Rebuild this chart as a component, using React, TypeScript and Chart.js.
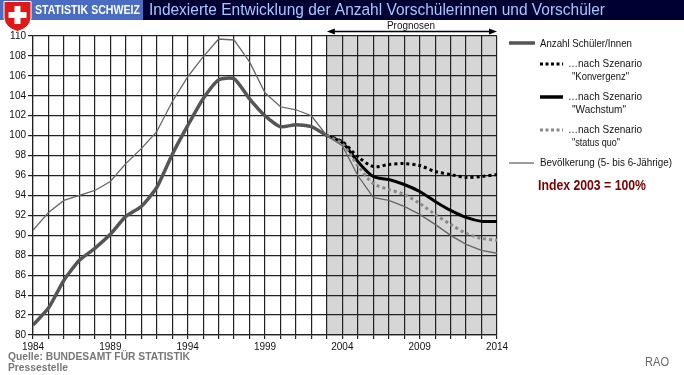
import React, { useEffect, useRef } from "react";
import { Chart, registerables } from "chart.js";

Chart.register(...registerables);

const histYears = [1984, 1985, 1986, 1987, 1988, 1989, 1990, 1991, 1992, 1993, 1994, 1995, 1996, 1997, 1998, 1999, 2000, 2001, 2002, 2003];
const schueler = [81.0, 82.7, 85.5, 87.5, 88.7, 90.1, 91.9, 92.9, 94.8, 98.1, 101.0, 103.7, 105.6, 105.7, 103.7, 102.0, 100.9, 101.1, 100.9, 100.0];
const bevHist = [90.5, 92.3, 93.5, 94.0, 94.5, 95.4, 97.2, 98.7, 100.4, 103.4, 105.9, 107.9, 109.7, 109.6, 107.4, 104.3, 102.9, 102.6, 102.0, 100.0];

const progYears = [2003, 2004, 2005, 2006, 2007, 2008, 2009, 2010, 2011, 2012, 2013, 2014];
const konvergenz = [100.0, 99.4, 97.9, 96.9, 97.1, 97.2, 97.0, 96.4, 96.1, 95.8, 95.9, 96.1];
const wachstum = [100.0, 99.3, 97.4, 95.9, 95.6, 95.1, 94.4, 93.4, 92.5, 91.8, 91.4, 91.4];
const statusQuo = [100.0, 99.2, 97.0, 95.2, 94.6, 94.1, 93.2, 92.1, 91.1, 90.2, 89.7, 89.5];
const bevProg = [100.0, 99.0, 96.0, 93.8, 93.5, 92.9, 92.1, 91.1, 90.0, 89.1, 88.5, 88.2];

const yTicks = [80, 82, 84, 86, 88, 90, 92, 94, 96, 98, 100, 102, 104, 106, 108, 110];
const xLabelYears = [1984, 1989, 1994, 1999, 2004, 2009, 2014];

const title = "Indexierte Entwicklung der Anzahl Vorschülerinnen und Vorschüler";
const brand = "STATISTIK SCHWEIZ";
const prognoseLabel = "Prognosen";
const prognoseStart = 2003;
const indexNote = "Index 2003 = 100%";
const source1 = "Quelle: BUNDESAMT FÜR STATISTIK";
const source2 = "Pressestelle";
const credit = "RAO";

const pts = (xs: number[], ys: number[]) => xs.map((x, i) => ({ x, y: ys[i] }));

const SANS = "'Liberation Sans', Arial, sans-serif";

function fitText(ctx: any, text: string, x: number, y: number, width: number) {
  const w = ctx.measureText(text).width;
  const s = w > 0 ? width / w : 1;
  ctx.save();
  ctx.translate(x, y);
  ctx.scale(s, 1);
  ctx.fillText(text, 0, 0);
  ctx.restore();
}

const decorPlugin = {
  id: "decor",
  beforeDraw(chart: any) {
    const ctx = chart.ctx;
    const x = chart.scales.x;
    const a = chart.chartArea;
    const x0 = x.getPixelForValue(prognoseStart);
    ctx.save();
    ctx.fillStyle = "#d6d6d6";
    ctx.fillRect(x0, a.top, a.right - x0, a.bottom - a.top);
    ctx.restore();
  },
  afterDraw(chart: any) {
    const ctx = chart.ctx;
    const xs = chart.scales.x;
    const a = chart.chartArea;
    ctx.save();
    // header
    ctx.fillStyle = "#000033";
    ctx.fillRect(0, 0, 684, 20);
    ctx.fillStyle = "#4a6cc2";
    ctx.fillRect(0, 0, 143, 20);
    // shield
    ctx.fillStyle = "#e01818";
    ctx.beginPath();
    ctx.moveTo(4, 1.5);
    ctx.lineTo(31, 1.5);
    ctx.lineTo(31, 18);
    ctx.quadraticCurveTo(30, 28, 17.5, 31.5);
    ctx.quadraticCurveTo(5, 28, 4, 18);
    ctx.closePath();
    ctx.fill();
    ctx.strokeStyle = "#ffffff";
    ctx.lineWidth = 1;
    ctx.stroke();
    ctx.fillStyle = "#ffffff";
    ctx.fillRect(14.5, 6, 6, 18);
    ctx.fillRect(8.5, 12, 18, 6);
    ctx.fillStyle = "#ffffff";
    ctx.font = `bold 13px ${SANS}`;
    ctx.textBaseline = "middle";
    ctx.textAlign = "left";
    fitText(ctx, brand, 35, 10.5, 105);
    ctx.fillStyle = "#a6c8ff";
    ctx.font = `16px ${SANS}`;
    fitText(ctx, title, 149, 10.5, 456);

    // Prognosen arrow
    const px0 = xs.getPixelForValue(prognoseStart);
    const px1 = a.right;
    const ay = 31.5;
    ctx.strokeStyle = "#000";
    ctx.fillStyle = "#000";
    ctx.lineWidth = 1.5;
    ctx.beginPath();
    ctx.moveTo(px0 + 4, ay);
    ctx.lineTo(px1 - 4, ay);
    ctx.stroke();
    ctx.beginPath();
    ctx.moveTo(px0, ay);
    ctx.lineTo(px0 + 8, ay - 3);
    ctx.lineTo(px0 + 8, ay + 3);
    ctx.closePath();
    ctx.fill();
    ctx.beginPath();
    ctx.moveTo(px1, ay);
    ctx.lineTo(px1 - 8, ay - 3);
    ctx.lineTo(px1 - 8, ay + 3);
    ctx.closePath();
    ctx.fill();
    ctx.font = `11px ${SANS}`;
    ctx.textAlign = "left";
    ctx.fillStyle = "#111";
    fitText(ctx, prognoseLabel, 387, 25.5, 48);

    // legend
    ctx.textAlign = "left";
    ctx.font = `11px ${SANS}`;
    const line = (x1: number, x2: number, y: number, color: string, w: number, dash: number[]) => {
      ctx.beginPath();
      ctx.setLineDash(dash);
      ctx.strokeStyle = color;
      ctx.lineWidth = w;
      ctx.moveTo(x1, y);
      ctx.lineTo(x2, y);
      ctx.stroke();
      ctx.setLineDash([]);
    };
    line(509, 535, 43, "#555555", 3.5, []);
    ctx.fillStyle = "#111";
    fitText(ctx, "Anzahl Schüler/Innen", 540, 43.5, 92);
    line(540, 563, 64, "#000000", 3, [3, 2.5]);
    ctx.fillStyle = "#111";
    fitText(ctx, "…nach Szenario", 568, 64, 74);
    fitText(ctx, "\"Konvergenz\"", 572, 77, 57);
    line(540, 563, 97, "#000000", 3.5, []);
    ctx.fillStyle = "#111";
    fitText(ctx, "…nach Szenario", 568, 97, 74);
    fitText(ctx, "\"Wachstum\"", 572, 110, 54);
    line(540, 563, 130, "#888888", 3, [3, 2.5]);
    ctx.fillStyle = "#111";
    fitText(ctx, "…nach Szenario", 568, 130, 74);
    fitText(ctx, "\"status quo\"", 572, 143, 48);
    line(509, 534, 163, "#666666", 1.3, []);
    ctx.fillStyle = "#111";
    fitText(ctx, "Bevölkerung (5- bis 6-Jährige)", 540, 163, 132);
    ctx.fillStyle = "#7a0000";
    ctx.font = `bold 15px ${SANS}`;
    fitText(ctx, indexNote, 538, 186, 108);

    // footer
    ctx.fillStyle = "#777777";
    ctx.font = `bold 11px ${SANS}`;
    fitText(ctx, source1, 8, 357, 182);
    fitText(ctx, source2, 8, 368, 60);
    ctx.font = `12px ${SANS}`;
    ctx.fillStyle = "#666";
    fitText(ctx, credit, 645, 363, 24);
    ctx.restore();
  },
};

export default function App() {
  const ref = useRef<HTMLCanvasElement>(null);
  useEffect(() => {
    if (!ref.current) return;
    const chart = new Chart(ref.current, {
      type: "line",
      data: {
        datasets: [
          { label: "Bevölkerung (5- bis 6-Jährige)", data: pts([...histYears, ...progYears.slice(1)], [...bevHist, ...bevProg.slice(1)]), borderColor: "#666666", borderWidth: 1.3, pointRadius: 0, tension: 0 },
          { label: "…nach Szenario \"status quo\"", data: pts(progYears, statusQuo), borderColor: "#8a8a8a", borderWidth: 3, borderDash: [3, 3], pointRadius: 0, tension: 0.3 },
          { label: "…nach Szenario \"Wachstum\"", data: pts(progYears, wachstum), borderColor: "#000000", borderWidth: 3, pointRadius: 0, tension: 0.3 },
          { label: "…nach Szenario \"Konvergenz\"", data: pts(progYears, konvergenz), borderColor: "#000000", borderWidth: 3, borderDash: [3, 3], pointRadius: 0, tension: 0.3 },
          { label: "Anzahl Schüler/Innen", data: pts(histYears, schueler), borderColor: "#555555", borderWidth: 3.5, pointRadius: 0, tension: 0.2 },
        ],
      },
      options: {
        responsive: false,
        animation: false,
        devicePixelRatio: 1,
        layout: { padding: { top: 36, right: 187, left: 0, bottom: 0 } },
        plugins: { legend: { display: false }, tooltip: { enabled: false } },
        scales: {
          x: {
            type: "linear",
            min: 1984,
            max: 2014,
            afterFit: (s: any) => { s.height = 40; },
            afterBuildTicks: (s: any) => {
              const t = [];
              for (let y = 1984; y <= 2014; y++) t.push({ value: y });
              s.ticks = t;
            },
            ticks: {
              autoSkip: false,
              maxRotation: 0,
              padding: 2,
              color: "#111",
              font: { family: SANS, size: 10 },
              callback: (v: any) => (xLabelYears.includes(Number(v)) ? String(v) : ""),
            },
            grid: { color: "#222", lineWidth: 1.2, tickLength: 4 },
            border: { color: "#222", width: 1.2 },
          },
          y: {
            min: 80,
            max: 110,
            afterFit: (s: any) => { s.width = 33; },
            afterBuildTicks: (s: any) => { s.ticks = yTicks.map((v) => ({ value: v })); },
            ticks: { color: "#111", padding: 2, font: { family: SANS, size: 10 } },
            grid: { color: "#222", lineWidth: 1.2, tickLength: 5 },
            border: { color: "#222", width: 1.2 },
          },
        },
      },
      plugins: [decorPlugin],
    } as any);
    return () => chart.destroy();
  }, []);
  return (
    <div style={{ position: "absolute", left: 0, top: 0, width: 684, height: 375, background: "#fff" }}>
      <canvas ref={ref} width={684} height={375} style={{ width: 684, height: 375, display: "block" }} />
    </div>
  );
}
